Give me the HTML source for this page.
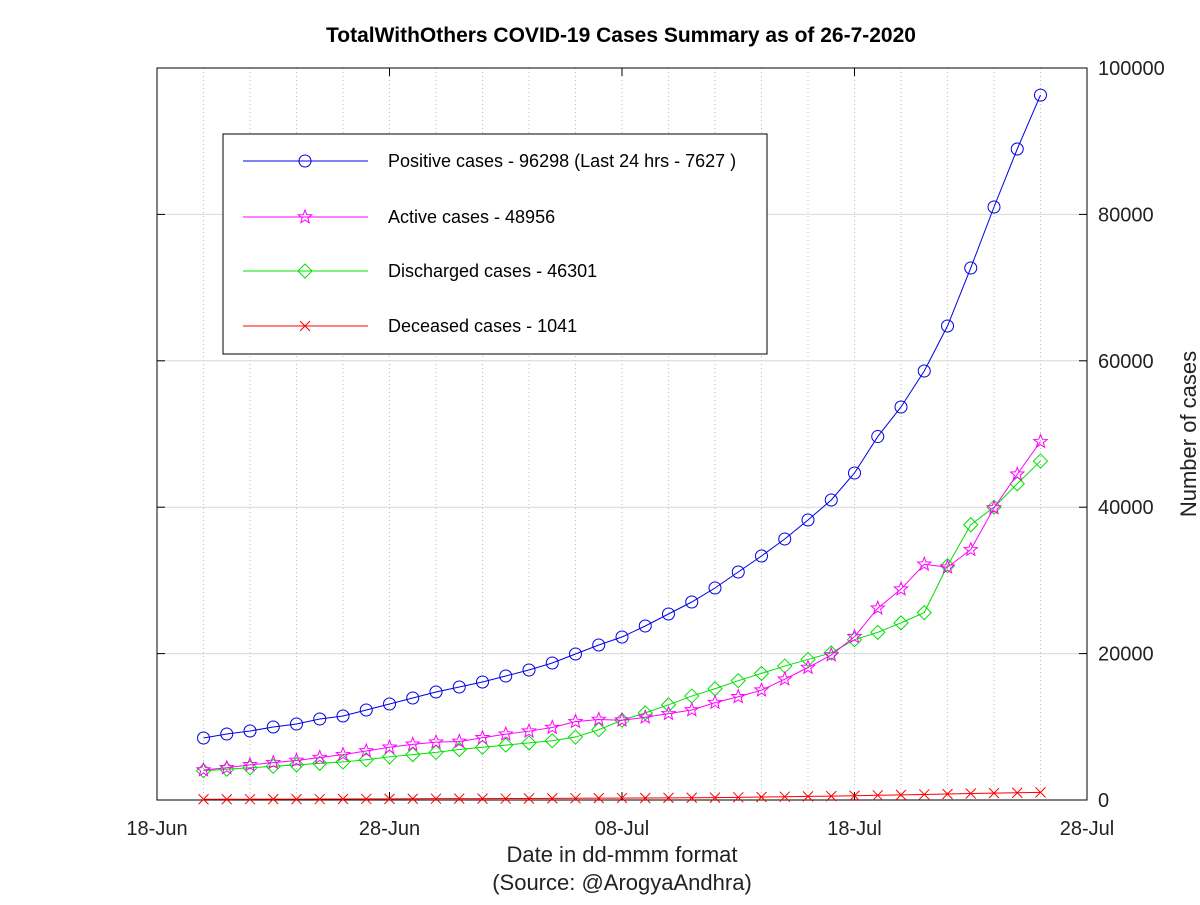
<!DOCTYPE html>
<html><head><meta charset="utf-8"><style>
body{margin:0;background:#fff}
svg text{font-family:"Liberation Sans",sans-serif}
</style></head><body>
<svg id="chart" width="1200" height="900" xmlns="http://www.w3.org/2000/svg">
<rect width="1200" height="900" fill="#fff"/>
<g id="grid"></g><g id="axes"></g><g id="series"></g><g id="legend"></g>
</svg>
<script>
const xTickLabels=["18-Jun","28-Jun","08-Jul","18-Jul","28-Jul"];
const yTicks=[0,20000,40000,60000,80000,100000];
const startDay=2; // 20-Jun, days since 18-Jun
const positive=[8470,9016,9426,9973,10383,11066,11475,12295,13115,13934,14754,15437,16120,16940,17760,18716,19945,21175,22268,23770,25410,27049,28962,31148,33333,35656,38251,40984,44672,49650,53689,58607,64754,72678,81011,88934,96298];
const active=[4100,4400,4800,5100,5400,5800,6200,6700,7200,7600,7900,8000,8500,9000,9400,9900,10700,11000,10900,11300,11800,12300,13300,14100,15000,16500,18100,19800,22300,26200,28800,32200,31800,34200,39900,44500,48956];
const discharged=[4000,4200,4400,4600,4800,5000,5200,5500,5900,6200,6500,6900,7200,7500,7800,8100,8600,9600,10900,11900,13000,14200,15200,16300,17300,18300,19200,20100,21900,22900,24200,25600,32000,37600,40000,43200,46301];
const deceased=[101,106,111,119,123,130,137,146,157,169,180,187,193,198,206,218,232,252,264,277,292,309,328,365,408,452,492,534,586,642,696,758,823,884,935,985,1041];
const legendLabels=["Positive cases - 96298 (Last 24 hrs - 7627 )","Active cases - 48956","Discharged cases - 46301","Deceased cases - 1041"];

const X0=157,X1=1087,Y0=800,Y1=68,NS="http://www.w3.org/2000/svg";
const xs=d=>X0+(X1-X0)*d/40;
const ys=v=>Y0-(Y0-Y1)*v/100000;
function el(t,a,p){const e=document.createElementNS(NS,t);for(const k in a)e.setAttribute(k,a[k]);p.appendChild(e);return e;}
const grid=document.getElementById('grid'),axes=document.getElementById('axes'),ser=document.getElementById('series'),leg=document.getElementById('legend');
for(let d=2;d<40;d+=2){const l=el('line',{x1:xs(d),x2:xs(d),y1:Y1,y2:Y0,stroke:'#bbb','stroke-dasharray':'1,3','stroke-width':1},grid);

}
yTicks.forEach(v=>{if(v>0&&v<100000){const l=el('line',{x1:X0,x2:X1,y1:ys(v),y2:ys(v),stroke:'#d8d8d8','stroke-width':1},grid);

}
const t=el('text',{x:1098,y:ys(v)+7,'font-size':20,fill:'#222'},axes);t.textContent=v;


el('line',{x1:X1-8,x2:X1,y1:ys(v),y2:ys(v),stroke:'#000'},axes);el('line',{x1:X0,x2:X0+8,y1:ys(v),y2:ys(v),stroke:'#000'},axes);});
xTickLabels.forEach((s,i)=>{const x=xs(i*10);const t=el('text',{x:x,y:835,'font-size':20,'text-anchor':'middle',fill:'#222'},axes);t.textContent=s;


el('line',{x1:x,x2:x,y1:Y0,y2:Y0-8,stroke:'#000'},axes);el('line',{x1:x,x2:x,y1:Y1,y2:Y1+8,stroke:'#000'},axes);});
const fr=el('rect',{x:X0,y:Y1,width:X1-X0,height:Y0-Y1,fill:'none',stroke:'#000','stroke-width':1},axes);


function txt(s,a,name){const t=el('text',a,axes);t.textContent=s;}
txt('TotalWithOthers COVID-19 Cases Summary as of 26-7-2020',{x:621,y:42,'font-size':21,'font-weight':'bold','text-anchor':'middle',fill:'#000'},'chart-title');
txt('Date in dd-mmm format',{x:622,y:862,'font-size':22,'text-anchor':'middle',fill:'#222'},'x-axis-title');
txt('(Source: @ArogyaAndhra)',{x:622,y:890,'font-size':22,'text-anchor':'middle',fill:'#222'},'x-axis-source');
txt('Number of cases',{x:0,y:0,'font-size':22,'text-anchor':'middle',fill:'#222',transform:'translate(1196,434) rotate(-90)'},'y-axis-title');

function marker(type,x,y,c,g){
 if(type==='o')return el('circle',{cx:x,cy:y,r:6,fill:'none',stroke:c},g);
 if(type==='s'){let p=[];for(let i=0;i<10;i++){const r=i%2?3:7,a=-Math.PI/2+i*Math.PI/5;p.push((x+r*Math.cos(a)).toFixed(1)+','+(y+r*Math.sin(a)).toFixed(1));}return el('polygon',{points:p.join(' '),fill:'none',stroke:c},g);}
 if(type==='d')return el('polygon',{points:`${x},${y-7} ${x+7},${y} ${x},${y+7} ${x-7},${y}`,fill:'none',stroke:c},g);
 return el('path',{d:`M${x-5},${y-5}L${x+5},${y+5}M${x-5},${y+5}L${x+5},${y-5}`,stroke:c,fill:'none'},g);
}
const S=[[positive,'#0000e6','o','positive-series'],[active,'#ff00ff','s','active-series'],[discharged,'#00e000','d','discharged-series'],[deceased,'#ff0000','x','deceased-series']];
[S[3],S[2],S[1],S[0]].forEach(([arr,c,m,name])=>{
 const g=el('g',{},ser);
 
 
 el('polyline',{points:arr.map((v,i)=>xs(startDay+i)+','+ys(v)).join(' '),fill:'none',stroke:c,'stroke-width':1},g);
 arr.forEach((v,i)=>{const mk=marker(m,xs(startDay+i),ys(v),c,g);
 
 });
});
const lb=el('rect',{x:223,y:134,width:544,height:220,fill:'#fff',stroke:'#000'},leg);


const ly=[161,217,271,326];
S.forEach(([arr,c,m,name],i)=>{
 const g=el('g',{},leg);
 
 
 el('line',{x1:243,x2:368,y1:ly[i],y2:ly[i],stroke:c},g);
 marker(m,305,ly[i],c,g);
 const t=el('text',{x:388,y:ly[i]+6,'font-size':18,fill:'#000'},g);t.textContent=legendLabels[i];
});
</script>
</body></html>
